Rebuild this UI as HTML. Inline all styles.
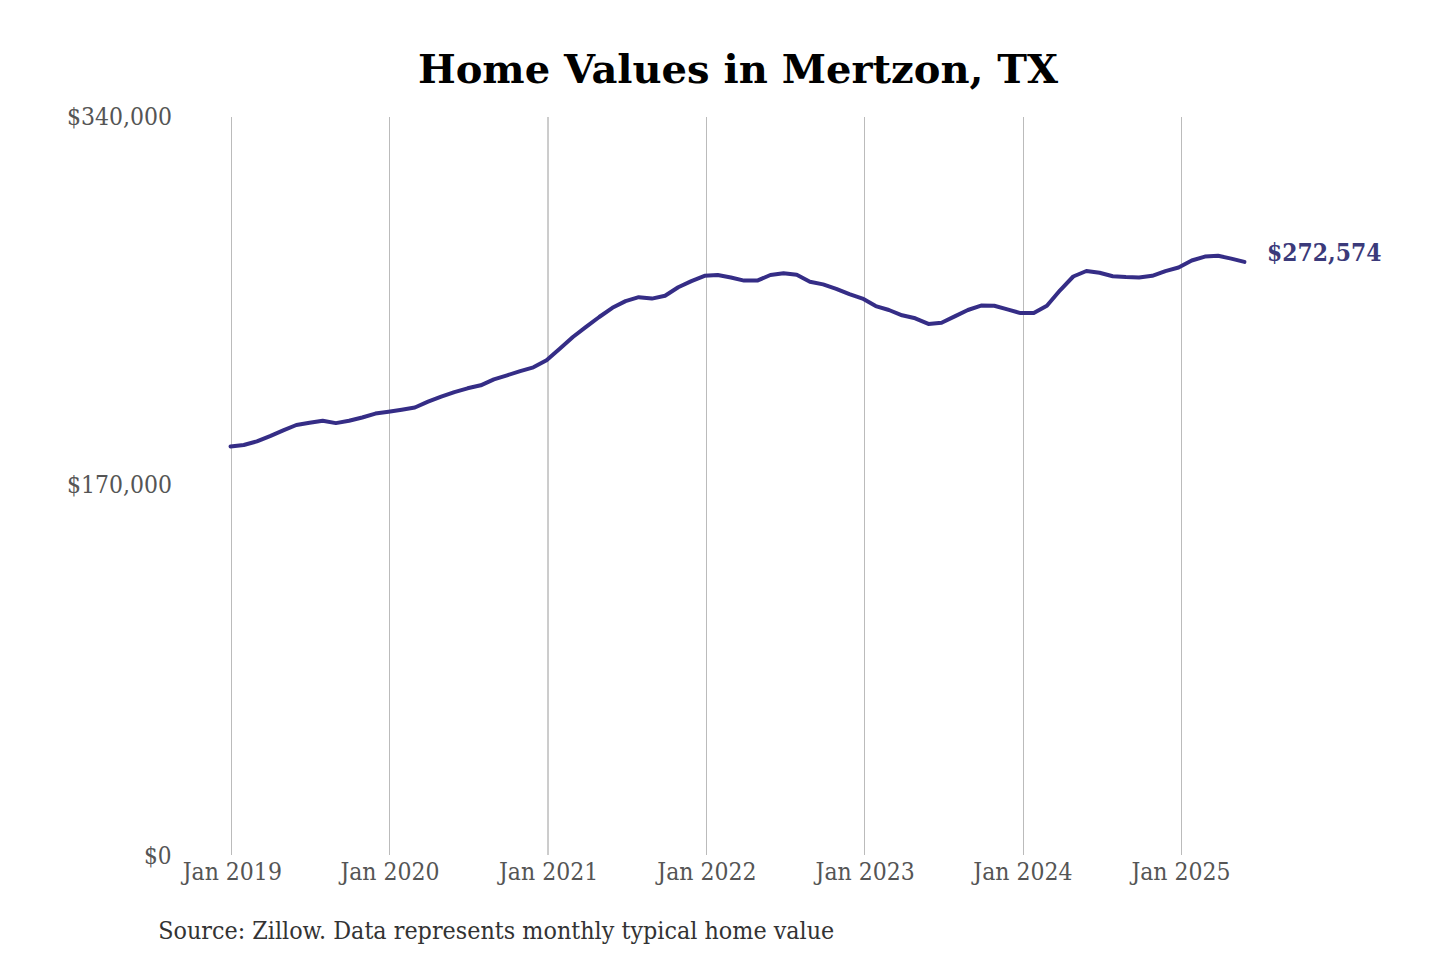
<!DOCTYPE html>
<html><head><meta charset="utf-8"><title>Home Values in Mertzon, TX</title>
<style>
html,body{margin:0;padding:0;background:#fff;width:1440px;height:960px;overflow:hidden}
svg{display:block}
.t{font-family:"DejaVu Serif","Liberation Serif",serif}
</style></head><body>
<svg width="1440" height="960" viewBox="0 0 1440 960">
<rect width="1440" height="960" fill="#fff"/>
<g stroke="#bbb" stroke-width="1">
<line x1="231.5" y1="117" x2="231.5" y2="855"/>
<line x1="389.5" y1="117" x2="389.5" y2="855"/>
<line x1="548" y1="117" x2="548" y2="855" stroke="#9a9a9a"/>
<line x1="706.5" y1="117" x2="706.5" y2="855"/>
<line x1="864.5" y1="117" x2="864.5" y2="855"/>
<line x1="1023.5" y1="117" x2="1023.5" y2="855"/>
<line x1="1181.5" y1="117" x2="1181.5" y2="855"/>
</g>
<text class="t" x="738" y="83" text-anchor="middle" font-size="40" font-weight="bold" fill="#000">Home Values in Mertzon, TX</text>
<g class="t" font-size="24" fill="#555" text-anchor="end">
<text x="172" y="125" textLength="105" lengthAdjust="spacingAndGlyphs">$340,000</text>
<text x="172" y="492.5" textLength="105" lengthAdjust="spacingAndGlyphs">$170,000</text>
<text x="171.5" y="864" textLength="27.6" lengthAdjust="spacingAndGlyphs">$0</text>
</g>
<g class="t" font-size="24" fill="#555" text-anchor="middle">
<text x="232.3" y="880" textLength="99.2" lengthAdjust="spacingAndGlyphs">Jan 2019</text>
<text x="390.0" y="880" textLength="99.2" lengthAdjust="spacingAndGlyphs">Jan 2020</text>
<text x="548.6" y="880" textLength="99.2" lengthAdjust="spacingAndGlyphs">Jan 2021</text>
<text x="706.9" y="880" textLength="99.2" lengthAdjust="spacingAndGlyphs">Jan 2022</text>
<text x="865.2" y="880" textLength="99.2" lengthAdjust="spacingAndGlyphs">Jan 2023</text>
<text x="1022.9" y="880" textLength="99.2" lengthAdjust="spacingAndGlyphs">Jan 2024</text>
<text x="1181.0" y="880" textLength="99.2" lengthAdjust="spacingAndGlyphs">Jan 2025</text>
</g>
<polyline fill="none" stroke="#352d86" stroke-width="4" stroke-linejoin="round" stroke-linecap="round" points="230.55,446.6 243.72,445 256.88,441.4 270.05,436.1 283.22,430.4 296.38,425 309.55,422.8 322.72,420.8 335.89,423.1 349.05,420.8 362.22,417.5 375.39,413.6 388.55,411.7 401.72,409.7 414.89,407.5 428.06,401.7 441.22,396.7 454.39,392.1 467.56,388.3 480.72,385.3 493.89,379.4 507.06,375.3 520.22,371.1 533.39,367.3 546.56,360.3 559.73,348.7 572.89,337 586.06,326.8 599.23,317 612.39,307.8 625.56,301.1 638.73,297.2 651.89,298.6 665.06,295.8 678.23,287.3 691.39,281.1 704.56,275.8 717.73,275 730.90,277.5 744.06,280.6 757.23,280.6 770.40,275 783.56,273.3 796.73,274.7 809.90,281.7 823.07,284.4 836.23,288.9 849.40,294.2 862.57,298.6 875.73,306.1 888.90,310 902.07,315.3 915.23,318.3 928.40,323.9 941.57,322.8 954.73,316.4 967.90,310 981.07,305.6 994.24,305.8 1007.40,309.4 1020.57,313.1 1033.74,313.1 1046.90,305.8 1060.07,290.3 1073.24,276.5 1086.40,271 1099.57,272.8 1112.74,276.2 1125.91,277.1 1139.07,277.5 1152.24,275.8 1165.41,271.1 1178.57,267.5 1191.74,260.5 1204.91,256.6 1218.08,255.8 1231.24,258.6 1244.41,261.9"/>
<text class="t" x="1267" y="260.9" font-size="24" textLength="114.4" lengthAdjust="spacingAndGlyphs" font-weight="bold" fill="#3b3a7a">$272,574</text>
<text class="t" x="158.2" y="938.8" font-size="24" textLength="676.1" lengthAdjust="spacingAndGlyphs" fill="#333">Source: Zillow. Data represents monthly typical home value</text>
</svg>
</body></html>
